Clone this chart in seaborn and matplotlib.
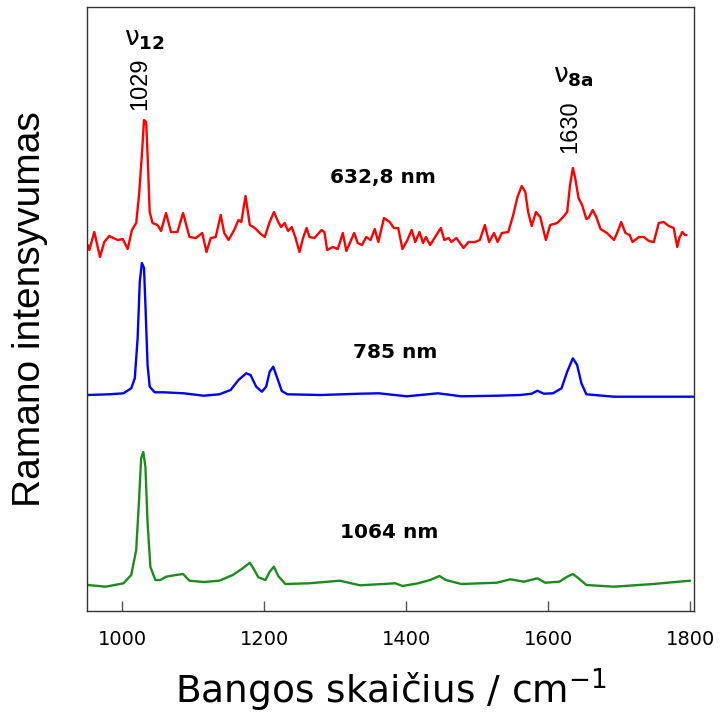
import matplotlib
matplotlib.use("Agg")
import matplotlib.pyplot as plt
import seaborn as sns
import pandas as pd

# ---- data (wavenumber, cm-1 ; intensity, a.u. relative to each baseline) ----
red_wn = [952, 954, 961, 969, 975, 982, 994, 1001, 1008, 1014, 1020, 1024, 1028, 1031, 1034, 1036,
          1039, 1043, 1050, 1055, 1062, 1069, 1078, 1086, 1095, 1104, 1113, 1119, 1125, 1132, 1139,
          1144, 1150, 1158, 1164, 1168, 1174, 1180, 1187, 1194, 1201, 1208, 1214, 1220, 1224, 1229,
          1234, 1239, 1244, 1250, 1255, 1260, 1264, 1271, 1281, 1285, 1289, 1297, 1304, 1311, 1316,
          1327, 1332, 1338, 1344, 1350, 1356, 1361, 1369, 1377, 1383, 1389, 1395, 1402, 1408, 1413,
          1419, 1424, 1428, 1434, 1441, 1449, 1454, 1460, 1464, 1471, 1481, 1488, 1497, 1504, 1511,
          1517, 1524, 1529, 1535, 1544, 1551, 1557, 1563, 1568, 1572, 1577, 1583, 1589, 1597, 1603,
          1613, 1620, 1627, 1631, 1635, 1638, 1643, 1648, 1654, 1657, 1663, 1668, 1674, 1683, 1693,
          1699, 1703, 1709, 1715, 1719, 1728, 1735, 1742, 1749, 1756, 1763, 1770, 1777, 1782, 1785,
          1789, 1793, 1795]
red_int = [-4, -9, 9, -16, -1, 5, 1, 2, -8, 11, 18, 46, 86, 121, 119, 86,
           29, 18, 16, 10, 28, 9, 9, 28, 4, 3, 8, -11, 3, 4, 26,
           8, 1, 11, 21, 19, 45, 16, 13, 8, 4, 19, 29, 19, 14, 18,
           10, 14, 4, -11, 3, 13, 4, 3, 11, 9, -9, -6, -8, 8, -10,
           8, -2, -4, 4, 1, 12, -1, 23, 19, 13, 13, -8, 1, 11, -1,
           9, -2, 4, -4, 4, 13, 1, 3, -1, 3, -7, -1, -1, 1, 16,
           -1, 8, -1, 8, 9, 26, 44, 55, 49, 29, 15, 29, 24, 1, 16,
           18, 23, 29, 56, 73, 64, 43, 36, 22, 23, 31, 24, 12, 8, 1,
           11, 19, 8, 6, -1, 4, 4, 0, -1, 18, 19, 15, 13, -6, 3,
           9, 6, 6]

blue_wn = [952, 982, 1002, 1013, 1018, 1022, 1025, 1028, 1031, 1033, 1036, 1039, 1046, 1059,
           1087, 1115, 1137, 1153, 1164, 1175, 1181, 1189, 1197, 1203, 1208, 1213, 1218, 1225,
           1233, 1280, 1335, 1362, 1401, 1445, 1478, 1528, 1561, 1577, 1585, 1594, 1607, 1619,
           1627, 1635, 1641, 1647, 1654, 1693, 1748, 1805]
blue_int = [1, 1.7, 2.7, 7.7, 17.7, 57.7, 114, 133, 128, 91, 31, 9.3, 3.7, 3.7,
            2.7, 0.3, 1.7, 6, 16, 22.7, 21, 9.3, 4.3, 9.3, 24.3, 29.3, 19.3, 5,
            1.7, 1, 2.3, 2.7, -0.3, 2.7, -0.3, 0.3, 1, 2.3, 5.3, 2.3, 2.7, 7.7,
            24.3, 37.7, 31, 12.7, 1.7, -0.7, -0.7, -0.7]

green_wn = [952, 977, 1002, 1013, 1020, 1024, 1027, 1030, 1033, 1036, 1040, 1047, 1054, 1062,
            1076, 1086, 1095, 1115, 1137, 1156, 1170, 1180, 1185, 1192, 1202, 1208, 1214, 1220,
            1230, 1263, 1307, 1335, 1385, 1395, 1417, 1434, 1447, 1456, 1478, 1528, 1547, 1566,
            1585, 1596, 1616, 1627, 1635, 1643, 1654, 1693, 1748, 1800]
green_int = [1, -0.7, 2.7, 11, 36, 86, 128, 134, 119, 63, 19, 6, 6, 9.3,
             11, 12, 5.3, 4, 5.3, 11, 17.7, 23.3, 17.7, 8.7, 6, 14.3, 19.3, 10,
             2, 2.7, 5.3, 0.7, 2.7, 0, 2.7, 6, 10, 6, 2, 3.3, 6.7, 4.3,
             7.7, 3.3, 4.3, 9.3, 12, 7.7, 1, -0.7, 2, 5.3]

series_labels = ["632,8 nm", "785 nm", "1064 nm"]
xticks = [1000, 1200, 1400, 1600, 1800]

# ---- layout / style ----
offsets = {"632,8 nm": 370, "785 nm": 215, "1064 nm": 25}
colors = {"632,8 nm": "#FF0000", "785 nm": "#0000FF", "1064 nm": "#1E8B1E"}

frames = []
for lab, wn, it in zip(series_labels, [red_wn, blue_wn, green_wn], [red_int, blue_int, green_int]):
    frames.append(pd.DataFrame({"wn": wn, "I": [v + offsets[lab] for v in it], "laser": lab}))
df = pd.concat(frames, ignore_index=True)

sns.set_style("white")
plt.rcParams["font.family"] = ["DejaVu Sans"]
plt.rcParams["mathtext.fontset"] = "dejavusans"
plt.rcParams["text.color"] = "black"
plt.rcParams["axes.labelcolor"] = "black"
plt.rcParams["xtick.color"] = "black"

fig = plt.figure(figsize=(7.28, 7.23), dpi=100)
ax = fig.add_axes([87 / 728, 1 - 611 / 723, (694 - 87) / 728, (611 - 7) / 723])

sns.lineplot(data=df, x="wn", y="I", hue="laser", palette=colors, sort=False,
             estimator=None, linewidth=1.7, legend=False, ax=ax)

ax.set_xlim(950.7, 1805.6)
ax.set_ylim(0, 604)
ax.set_xticks(xticks)
ax.set_xticklabels([str(t) for t in xticks], fontsize=14)
ax.set_yticks([])
ax.tick_params(axis="x", direction="in", length=7, width=1, color="#555555",
               labelcolor="black", pad=14, bottom=True)
for s in ax.spines.values():
    s.set_color("#333333")
    s.set_linewidth(1.0)

ax.set_xlabel("Bangos skaičius / cm$^{-1}$", fontsize=27, labelpad=12, color="black")
ax.set_ylabel("Ramano intensyvumas", fontsize=28, family="Liberation Sans", labelpad=28,
              color="black")

# peak labels
ax.text(1032, 572, r"$\mathrm{\nu}_{\mathbf{12}}$", fontsize=19, ha="center", va="center")
ax.text(1025, 527, "1029", fontsize=17, family="Liberation Sans", rotation=90, ha="center", va="center")
ax.text(1636, 535, r"$\mathrm{\nu}_{\mathbf{8a}}$", fontsize=19, ha="center", va="center")
ax.text(1632, 484, "1630", fontsize=17, family="Liberation Sans", rotation=90, ha="center", va="center")

# series labels
ax.text(1368, 433, "632,8 nm", fontsize=14.5, fontweight="bold", ha="center", va="center")
ax.text(1385, 259, "785 nm", fontsize=14.5, fontweight="bold", ha="center", va="center")
ax.text(1377, 78, "1064 nm", fontsize=14.5, fontweight="bold", ha="center", va="center")

fig.savefig("out.png", dpi=100)
